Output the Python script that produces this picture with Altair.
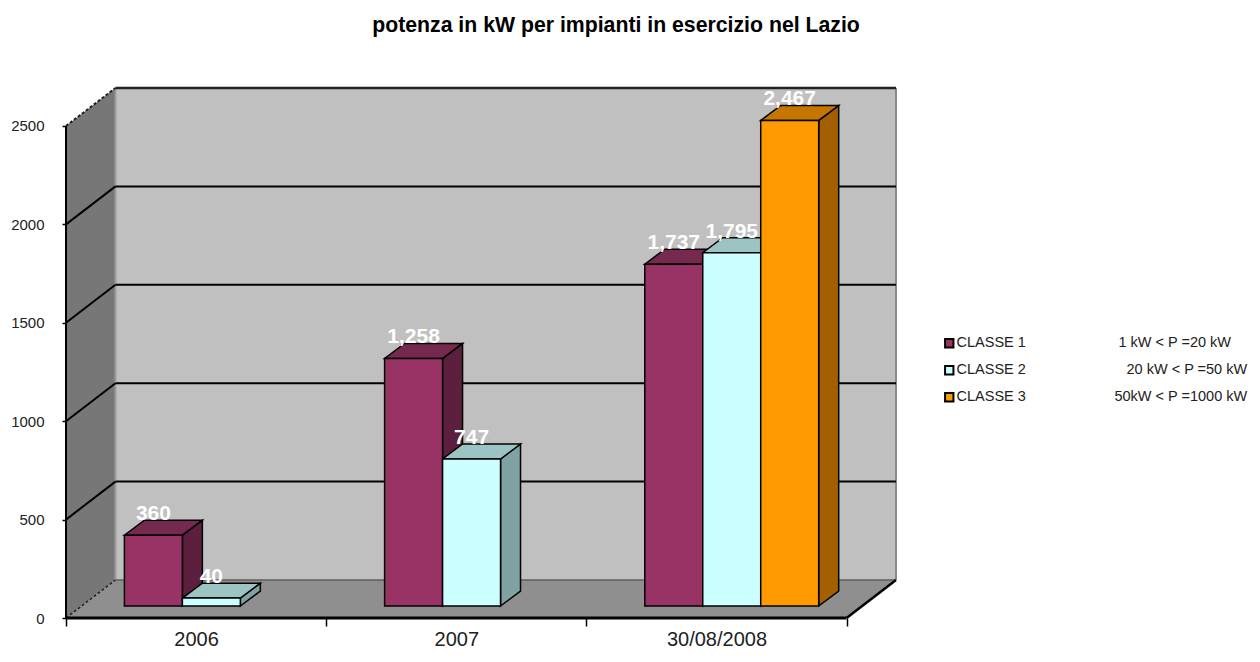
import altair as alt
import pandas as pd

TITLE = "potenza in kW per impianti in esercizio nel Lazio"
YEARS = ["2006", "2007", "30/08/2008"]
CLASS_LABELS = [
    "CLASSE 1" + "\u00a0" * 23 + "1 kW < P =20 kW",
    "CLASSE 2" + "\u00a0" * 25 + "20 kW < P =50 kW",
    "CLASSE 3" + "\u00a0" * 22 + "50kW < P =1000 kW",
]
CLASSE_1 = [360, 1258, 1737]
CLASSE_2 = [40, 747, 1795]
CLASSE_3 = [None, None, 2467]
SERIES = [CLASSE_1, CLASSE_2, CLASSE_3]
FRONT = ["#993366", "#CCFFFF", "#FF9900"]
TOP = ["#76294F", "#9CC4C2", "#C47600"]
SIDE = ["#5C1F3D", "#7FA3A3", "#A35F00"]
Y_TICKS = [0, 500, 1000, 1500, 2000, 2500]
X_TICKS = [0, 0.5, 1, 1.5, 2, 2.5, 3]

# projection of the oblique 3-D box, in data units
DEPTH_X, DEPTH_Y = 0.19, 193
BAR_W, BAR_START = 0.2228, 0.2245
BAR_DX, BAR_DY = 0.0768, 76
BASE = 61
XMAX, YMAX = 3 + DEPTH_X, 2500 + DEPTH_Y

xs = alt.Scale(domain=[0, XMAX], nice=False, zero=False)
ys = alt.Scale(domain=[0, YMAX], nice=False, zero=False)
X_AXIS = alt.Axis(
    values=X_TICKS, domain=False, grid=False, orient="bottom", title=None,
    tickSize=8, tickColor="black", tickWidth=1.5,
    tickOpacity={"condition": {"test": "datum.value % 1 == 0", "value": 1}, "value": 0},
    labelFontSize=20, labelFont="Liberation Sans", labelColor="#222222", labelPadding=3,
    labelExpr=f"datum.value % 1 == 0 ? '' : {YEARS}[floor(datum.value)]",
)
Y_AXIS = alt.Axis(
    values=Y_TICKS, domain=False, grid=False, orient="left", title=None, format="d",
    tickSize=4, tickColor="black", tickWidth=1.5,
    labelFontSize=15, labelFont="Liberation Sans", labelColor="#222222", labelPadding=18,
)
X = lambda f="x:Q": alt.X(f, scale=xs, axis=X_AXIS)
Y = lambda f="lo:Q": alt.Y(f, scale=ys, axis=Y_AXIS)
Y2 = alt.Y2("hi:Q")


def band(rows, color, stroke=None, sw=1.5):
    df = pd.DataFrame(rows, columns=["x", "lo", "hi"])
    kw = dict(color=color, interpolate="linear")
    if stroke:
        kw.update(stroke=stroke, strokeWidth=sw)
    return alt.Chart(df).mark_area(**kw).encode(x=X(), y=Y(), y2=Y2)


def top_face(x0, x1, v, dx, dy, color, stroke=None, sw=1.5):
    return band([(x0, v, v), (x0 + dx, v, v + dy), (x1, v, v + dy), (x1 + dx, v + dy, v + dy)],
                color, stroke, sw)


def segment(x0, v0, x1, v1, color="black", sw=2, dash=None):
    df = pd.DataFrame({"x": [x0, x1], "lo": [v0, v1]})
    kw = dict(color=color, strokeWidth=sw)
    if dash:
        kw["strokeDash"] = dash
    return alt.Chart(df).mark_line(**kw).encode(x=X(), y=Y())


layers = [
    band([(0, 0, 2500), (DEPTH_X, DEPTH_Y, YMAX)], "#777777"),
    band([(DEPTH_X, DEPTH_Y, YMAX), (XMAX, DEPTH_Y, YMAX)], "#C0C0C0"),
    top_face(0, 3, 0, DEPTH_X, DEPTH_Y, "#8F8F8F"),
    segment(DEPTH_X, DEPTH_Y, DEPTH_X, YMAX, "#9A9A9A", 2),
    segment(XMAX, DEPTH_Y, XMAX, YMAX, "#8A8A8A", 2),
    segment(DEPTH_X, DEPTH_Y, XMAX, DEPTH_Y, "#5E5E5E", 1.5),
    segment(0, 0, DEPTH_X, DEPTH_Y, "#222222", 1.5, [3, 2]),
    segment(0, 2500, DEPTH_X, YMAX, "#222222", 2, [3, 2]),
    segment(DEPTH_X, YMAX, XMAX, YMAX, "#222222", 2.5),
    segment(3, 0, XMAX, DEPTH_Y, "black", 2.5),
    segment(0, 0, 0, 2500, "black", 2),
    segment(0, 0, 3, 0, "black", 3),
]
for t in Y_TICKS[1:-1]:
    layers.append(segment(0, t, DEPTH_X, t + DEPTH_Y))
    layers.append(segment(DEPTH_X, t + DEPTH_Y, XMAX, t + DEPTH_Y))

rows = []
for s, vals in enumerate(SERIES):
    for c, v in enumerate(vals):
        if v is None:
            continue
        x0 = c + BAR_START + s * BAR_W
        x1 = x0 + BAR_W
        top = BASE + v
        rows.append({"x": x0, "x2": x1, "lo": BASE, "hi": top, "classe": CLASS_LABELS[s],
                     "mid": (x0 + x1) / 2, "label": f"{v:,}"})
        layers.append(band([(x1, BASE, top), (x1 + BAR_DX, BASE + BAR_DY, top + BAR_DY)], SIDE[s], "black"))
        layers.append(top_face(x0, x1, top, BAR_DX, BAR_DY, TOP[s], "black"))
bars = pd.DataFrame(rows)

layers.append(
    alt.Chart(bars).mark_rect(stroke="black", strokeWidth=1.5).encode(
        x=X(), x2="x2:Q", y=Y(), y2=Y2,
        color=alt.Color(
            "classe:N",
            scale=alt.Scale(domain=CLASS_LABELS, range=FRONT),
            legend=alt.Legend(
                title=None, orient="none", legendX=876, legendY=248,
                symbolType="square", symbolSize=70, symbolStrokeColor="black",
                symbolStrokeWidth=2, symbolOpacity=1, labelFontSize=14.5, labelFont="Liberation Sans",
                labelColor="#222222", labelLimit=400, labelOffset=0, rowPadding=10,
            ),
        ),
    )
)
layers.append(
    alt.Chart(bars).mark_text(color="white", fontSize=21, fontWeight="bold", font="Liberation Sans",
                              baseline="middle", dy=-21).encode(
        x=X("mid:Q"), y=Y("hi:Q"), text="label:N"
    )
)

chart = alt.layer(*layers).properties(
    width=830, height=530,
    padding={"left": 58, "top": 80, "right": 356, "bottom": 31},
    autosize=alt.AutoSizeParams(type="none"),
    title=alt.TitleParams(TITLE, anchor="middle", dx=135, offset=47, fontSize=21.25, fontWeight="bold",
                          font="Liberation Sans", color="black"),
).configure_view(stroke=None)

chart.save("out.html", embed_options={"renderer": "svg", "actions": False})
